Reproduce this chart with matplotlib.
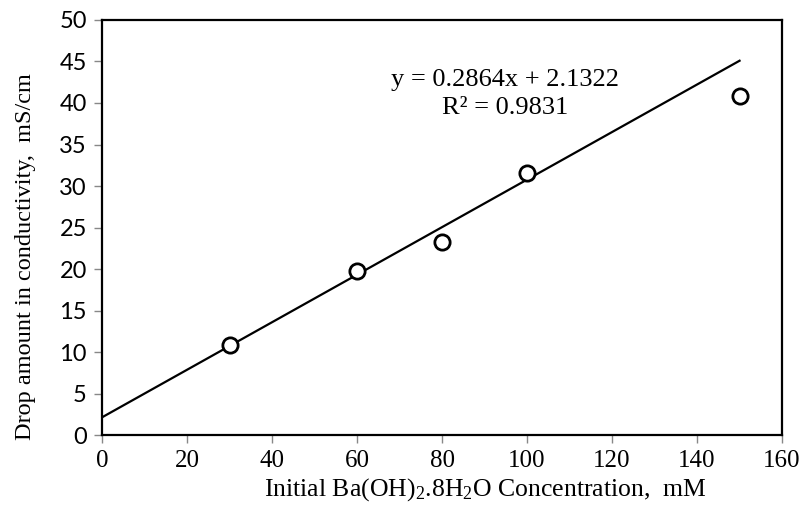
import numpy as np
import matplotlib.pyplot as plt

plt.rcParams['mathtext.fontset'] = 'custom'
plt.rcParams['mathtext.rm'] = 'Liberation Serif'
plt.rcParams['mathtext.it'] = 'Liberation Serif:italic'

# data
conc = [30, 60, 80, 100, 150]
drop = [10.8, 19.7, 23.3, 31.6, 40.9]
slope, intercept = 0.2864, 2.1322
x_ticks = [0, 20, 40, 60, 80, 100, 120, 140, 160]
y_ticks = [0, 5, 10, 15, 20, 25, 30, 35, 40, 45, 50]

fig = plt.figure(figsize=(8.06, 5.18), dpi=100)
ax = fig.add_axes([0.1266, 0.1602, 0.8437, 0.8012])

# trendline drawn from 0 to the last point
xl = np.array([0, max(conc)])
ax.plot(xl, slope * xl + intercept, 'k-', lw=1.6, zorder=2)
ax.plot(conc, drop, 'o', ms=11, mfc='white', mec='black', mew=2, zorder=3)

ax.set_xlim(0, 160)
ax.set_ylim(0, 50)
ax.set_xticks(x_ticks)
ax.set_yticks(y_ticks)
ax.set_xticklabels([str(t) for t in x_ticks], fontfamily='Liberation Serif', fontsize=18)
ax.set_yticklabels([str(t) for t in y_ticks], fontfamily='Lato', fontsize=17)
ax.tick_params(axis='both', direction='out', length=6, width=1, color='#888888', pad=5)

for s in ax.spines.values():
    s.set_linewidth(1.6)
    s.set_color('black')

ax.set_xlabel(r'Initial Ba(OH)$_2$.8H$_2$O Concentration,  mM',
              fontfamily='Liberation Serif', fontsize=18.5)
ax.set_ylabel('Drop amount in conductivity,  mS/cm',
              fontfamily='Liberation Serif', fontsize=17.5)
# Excel placed the titles off-centre
ax.xaxis.set_label_coords(0.563, -0.098)
ax.yaxis.set_label_coords(-0.097, 0.429)

ax.text(94.8, 41.1, 'y = 0.2864x + 2.1322\nR\u00b2 = 0.9831', ha='center', va='center',
        fontfamily='Liberation Serif', fontsize=19, linespacing=1.38)

fig.savefig('out.png', dpi=100)
